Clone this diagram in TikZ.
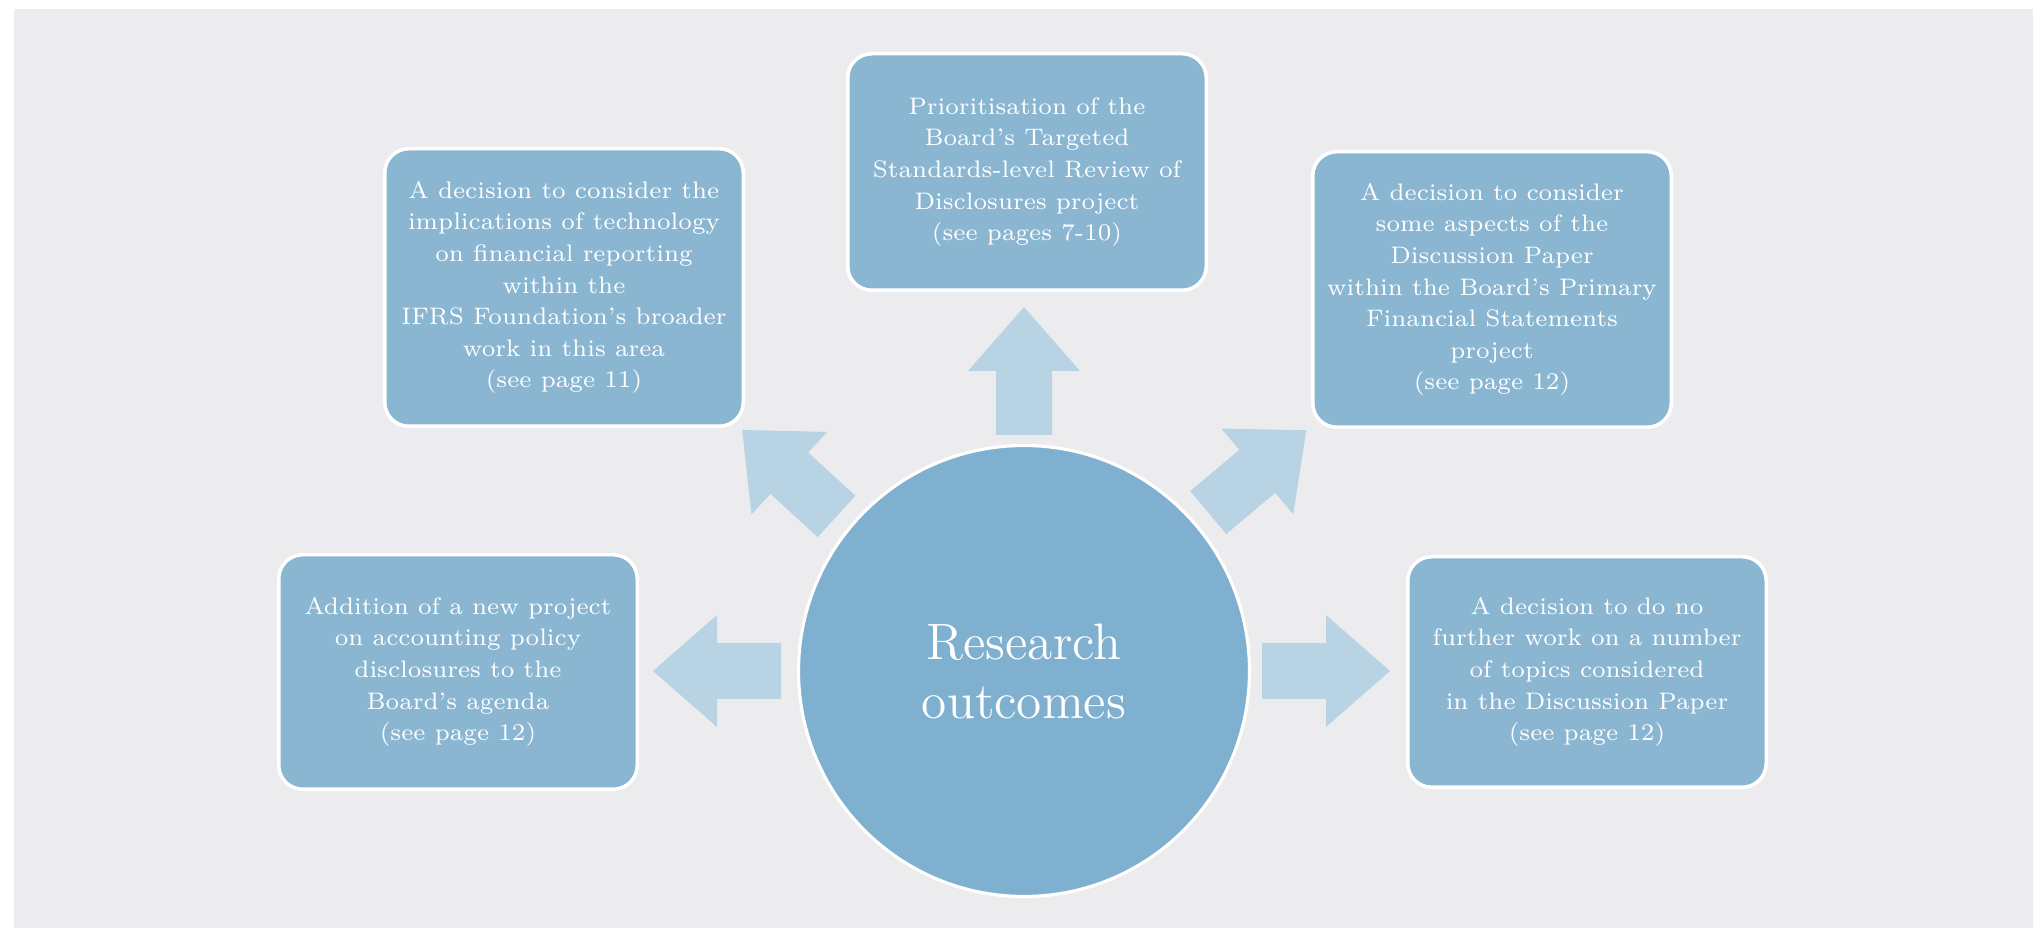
\documentclass[tikz,border=0pt]{standalone}
\usepackage{tikz}
\usetikzlibrary{calc}

\definecolor{paper}{RGB}{236,236,238}
\definecolor{boxblue}{RGB}{138,182,210}
\definecolor{hubblue}{RGB}{127,176,207}
\definecolor{arrowblue}{RGB}{184,212,228}

\tikzset{
  outcome/.style={rectangle, rounded corners=0.24cm, fill=boxblue, draw=white,
    line width=1pt, text=white, align=center, minimum width=3.585cm,
    inner sep=0pt, font=\fontsize{6.8}{9}\selectfont},
  hub/.style={circle, fill=hubblue, draw=white, line width=0.9pt, text=white,
    align=center, minimum size=4.51cm, inner sep=0pt,
    font=\fontsize{14.6}{16.8}\selectfont},
  fatarrow/.style={fill=arrowblue}
}

\begin{document}
\begin{tikzpicture}
    \useasboundingbox (0,0) rectangle (20.38,-9.28);
    \fill[paper] (0.14,-0.09) rectangle (20.33,-9.28);

    \node[hub] (hub) at (10.24,-6.71) {Research\\ outcomes};

    \node[outcome, minimum height=2.365cm] (review) at (10.27,-1.72)
        {Prioritisation of the\\ Board’s Targeted\\ Standards-level Review of\\
         Disclosures project\\ (see pages 7-10)};
    \node[outcome, minimum height=2.775cm] (tech) at (5.64,-2.875)
        {A decision to consider the\\ implications of technology\\
         on financial reporting\\ within the\\ IFRS Foundation’s broader\\
         work in this area\\ (see page 11)};
    \node[outcome, minimum height=2.755cm] (pfs) at (14.92,-2.895)
        {A decision to consider\\ some aspects of the\\ Discussion Paper\\
         within the Board’s Primary\\ Financial Statements\\ project\\
         (see page 12)};
    \node[outcome, minimum height=2.345cm] (policy) at (4.58,-6.72)
        {Addition of a new project\\ on accounting policy\\ disclosures to the\\
         Board’s agenda\\ (see page 12)};
    \node[outcome, minimum height=2.305cm] (nofurther) at (15.87,-6.72)
        {A decision to do no\\ further work on a number\\ of topics considered\\
         in the Discussion Paper\\ (see page 12)};

    % arrows out of the hub: position angle / distance / direction
    \foreach \pos/\dist/\dir in {90/2.36/90, 180/2.43/180, 0/2.38/0,
                                 140.5/2.43/137.5, 40.7/2.43/40}
    \fill[fatarrow, shift={($(hub.center)+(\pos:\dist)$)}, rotate=\dir]
        (0,-0.28) -- (0.64,-0.28) -- (0.64,-0.56) -- (1.28,0) --
        (0.64,0.56) -- (0.64,0.28) -- (0,0.28) -- cycle;
\end{tikzpicture}
\end{document}
